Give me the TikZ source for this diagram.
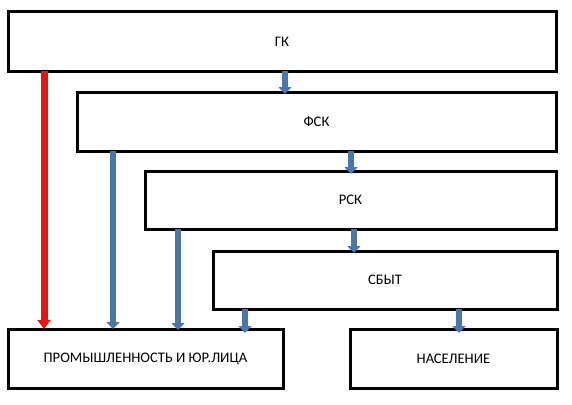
\documentclass[tikz,border=0pt]{standalone}
\usepackage{fontspec}
\setmainfont{Carlito}
\usetikzlibrary{arrows.meta}
\definecolor{barblue}{RGB}{74,118,171}
\definecolor{barred}{RGB}{232,20,20}
\tikzset{
  box/.style={draw=black, line width=3pt, outer sep=0pt, inner sep=0pt, font=\fontsize{14.6}{16}\selectfont},
  bluearrow/.style={draw=barblue, line width=6pt, -{Triangle[width=13pt,length=7pt]}},
  redarrow/.style={draw=barred, line width=7pt, -{Triangle[width=13pt,length=9pt]}}
}
\begin{document}
\begin{tikzpicture}[x=1pt,y=-1pt]
\useasboundingbox (0,0) rectangle (572,404);
\node[box, minimum width=548pt, minimum height=59pt] (gk) at (282,41.5) {ГК};
\node[box, minimum width=479pt, minimum height=59pt] (fsk) at (316.5,121.5) {ФСК};
\node[box, minimum width=411pt, minimum height=58pt] (rsk) at (350.5,200) {РСК};
\node[box, minimum width=344pt, minimum height=58pt] (sbyt) at (385,280) {СБЫТ};
\node[box, minimum width=275pt, minimum height=59pt] (prom) at (145.5,358.5) {\raisebox{-1pt}{ПРОМЫШЛЕННОСТЬ И ЮР.ЛИЦА}};
\node[box, minimum width=207pt, minimum height=59pt] (nas) at (453.5,358.5) {\raisebox{-1pt}{НАСЕЛЕНИЕ}};
% red arrow
\draw[redarrow] (gk.south -| 44,0) -- (prom.north -| 44,0);
% blue arrows to prom
\draw[bluearrow] (fsk.south -| 113,0) -- (prom.north -| 113,0);
\draw[bluearrow] (rsk.south -| 178,0) -- ([yshift=-1pt]prom.north -| 178,0);
\draw[bluearrow] (sbyt.south -| 245,0) -- ([yshift=-4pt]prom.north -| 245,0);
% chain arrows
\draw[bluearrow] (gk.south -| 285,0) -- ([yshift=-2pt]fsk.north -| 285,0);
\draw[bluearrow] (fsk.south -| 351,0) -- ([yshift=-3pt]rsk.north -| 351,0);
\draw[bluearrow] (rsk.south -| 354,0) -- ([yshift=-2pt]sbyt.north -| 354,0);
\draw[bluearrow] (sbyt.south -| 459,0) -- ([yshift=-4pt]nas.north -| 459,0);
\end{tikzpicture}
\end{document}
